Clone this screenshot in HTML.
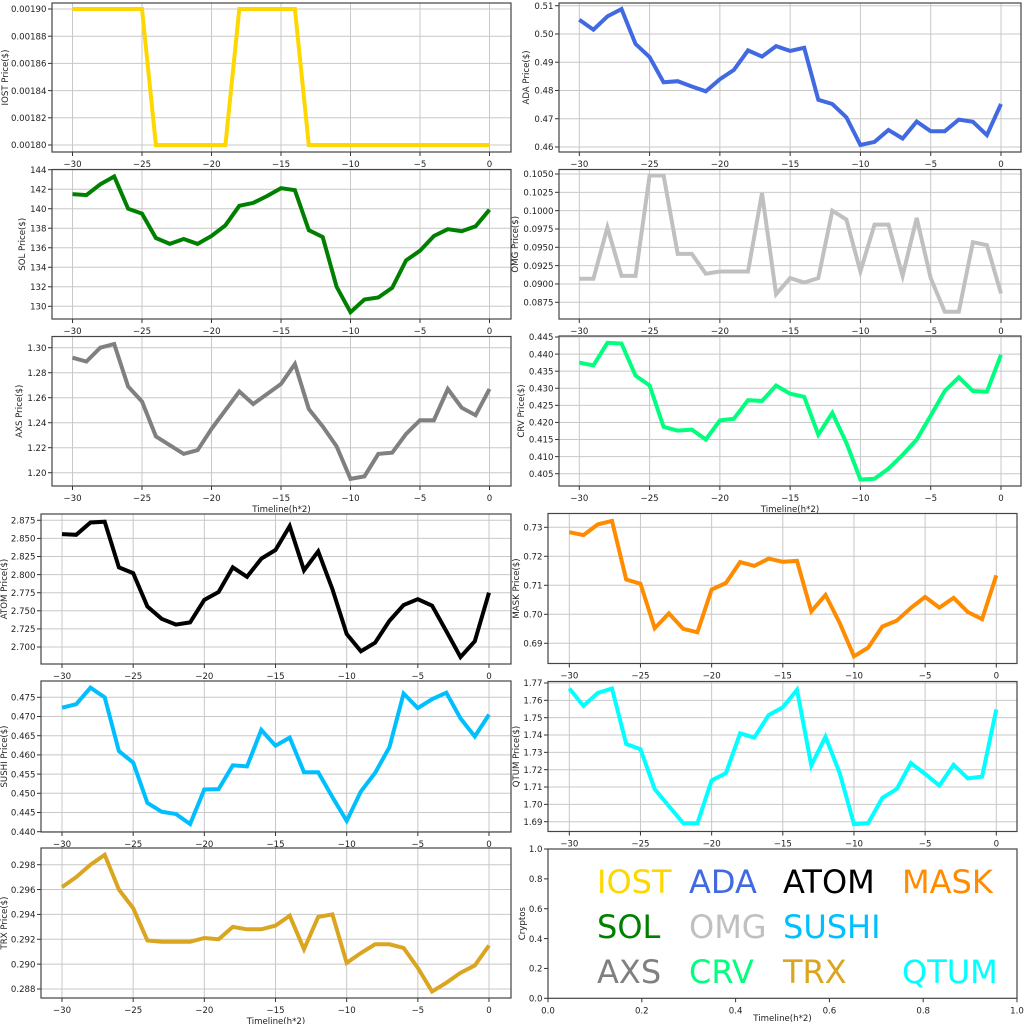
<!DOCTYPE html>
<html><head><meta charset="utf-8"><style>
html,body{margin:0;padding:0;background:#fff;}
svg{display:block;font-family:"DejaVu Sans","Liberation Sans",sans-serif;}
</style></head><body>
<svg id="s" width="1024" height="1024" viewBox="0 0 1024 1024" xmlns="http://www.w3.org/2000/svg"></svg>
<script>
const S=document.getElementById('s');let h='';const FS=8.6;
function panel(p){
  const {L,R,T,B,x30,x0,v1,p1,v2,p2,ticks,dec,label,color,data,xlab}=p;
  const fy=v=>p1+(v-v1)*(p2-p1)/(v2-v1);
  const fx=i=>x30+(i+30)*(x0-x30)/30;
  h+=`<rect x="${L}" y="${T}" width="${R-L}" height="${B-T}" fill="#fff"/>`;
  for(let k=-30;k<=0;k+=5){const x=fx(k);h+=`<line x1="${x}" y1="${T}" x2="${x}" y2="${B}" stroke="#c8c8c8" stroke-width="1"/>`;
    h+=`<line x1="${x}" y1="${B}" x2="${x}" y2="${B+4}" stroke="#333"/>`;
    h+=`<text x="${x}" y="${B+15}" font-size="${FS}" text-anchor="middle" fill="#222">${k<0?'\u2212'+(-k):k}</text>`;}
  ticks.forEach(t=>{const y=fy(t);h+=`<line x1="${L}" y1="${y}" x2="${R}" y2="${y}" stroke="#c8c8c8" stroke-width="1"/>`;
    h+=`<line x1="${L-4}" y1="${y}" x2="${L}" y2="${y}" stroke="#333"/>`;
    h+=`<text x="${L-5.5}" y="${y+3.2}" font-size="${FS}" text-anchor="end" fill="#222">${t.toFixed(dec)}</text>`;});
  let pts=data.map((v,i)=>fx(i-30).toFixed(1)+','+fy(v).toFixed(1)).join(' ');
  h+=`<polyline points="${pts}" fill="none" stroke="${color}" stroke-width="4" stroke-linejoin="miter"/>`;
  h+=`<rect x="${L}" y="${T}" width="${R-L}" height="${B-T}" fill="none" stroke="#444" stroke-width="1.2"/>`;
  const ly=(T+B)/2;
  h+=`<text transform="translate(${p.labx},${ly}) rotate(-90)" font-size="${FS}" text-anchor="middle" fill="#222">${label}</text>`;
  if(xlab)h+=`<text x="${(L+R)/2}" y="${B+26}" font-size="${FS}" text-anchor="middle" fill="#222">Timeline(h*2)</text>`;
}
function rng(a,b,s){const r=[];for(let v=a;v<=b+s/1000;v+=s)r.push(+v.toFixed(6));return r;}
const LT={L:52,R:511,x30:72.5,x0:489.5}, RT={L:559,R:1021,x30:579.3,x0:1001};
const LB={L:41,R:511,x30:62,x0:489}, RB={L:548,R:1017,x30:569.3,x0:996.3};
const iost=[];for(let i=-30;i<=0;i++)iost.push((i<=-25||(i>=-18&&i<=-14))?0.0019:0.0018);
panel({...LT,T:3,B:152,v1:0.0019,p1:9,v2:0.0018,p2:145,ticks:rng(0.0018,0.0019,0.00002),dec:5,label:'IOST Price($)',labx:8,color:'#FFD700',data:iost});
panel({...LT,T:169.5,B:319,v1:144,p1:169.7,v2:130,p2:306.3,ticks:rng(130,144,2),dec:0,label:'SOL Price($)',labx:25,color:'#008000',
data:[141.5,141.4,142.5,143.3,140,139.5,137,136.4,136.9,136.4,137.2,138.3,140.3,140.6,141.3,142.1,141.9,137.8,137.1,132,129.4,130.7,130.9,131.9,134.7,135.7,137.2,137.9,137.7,138.2,139.9]});
panel({...LT,T:336.5,B:486,v1:1.30,p1:347.7,v2:1.20,p2:472.7,ticks:rng(1.2,1.3,0.02),dec:2,label:'AXS Price($)',labx:22,color:'#808080',xlab:1,
data:[1.292,1.289,1.300,1.303,1.269,1.257,1.229,1.222,1.215,1.218,1.235,1.250,1.265,1.255,1.263,1.271,1.287,1.251,1.237,1.221,1.195,1.197,1.215,1.216,1.231,1.242,1.242,1.267,1.252,1.246,1.267]});
panel({...RT,T:3,B:152,v1:0.51,p1:5.7,v2:0.46,p2:147,ticks:rng(0.46,0.51,0.01),dec:2,label:'ADA  Price($)',labx:529,color:'#4169E1',
data:[0.5050,0.5015,0.5062,0.5088,0.4965,0.4918,0.4829,0.4833,0.4814,0.4797,0.4840,0.4873,0.4942,0.4920,0.4957,0.4940,0.4951,0.4767,0.4752,0.4705,0.4607,0.4618,0.4660,0.4630,0.4690,0.4656,0.4656,0.4697,0.4689,0.4642,0.4752]});
panel({...RT,T:169.5,B:319,v1:0.105,p1:174,v2:0.0875,p2:302.3,ticks:rng(0.0875,0.105,0.0025),dec:4,label:'OMG  Price($)',labx:518,color:'#C0C0C0',
data:[0.0907,0.0907,0.0977,0.0911,0.0911,0.1048,0.1048,0.0941,0.0941,0.0914,0.0917,0.0917,0.0917,0.1024,0.0886,0.0908,0.0902,0.0908,0.1000,0.0988,0.0917,0.0981,0.0981,0.0911,0.0990,0.0908,0.0862,0.0862,0.0957,0.0953,0.0887]});
panel({...RT,T:336,B:486,v1:0.445,p1:337,v2:0.405,p2:473.7,ticks:rng(0.405,0.445,0.005),dec:3,label:'CRV  Price($)',labx:524,color:'#00FF7F',xlab:1,
data:[0.4375,0.4367,0.4433,0.4431,0.4337,0.4308,0.4187,0.4176,0.4179,0.4150,0.4206,0.4211,0.4265,0.4263,0.4308,0.4284,0.4275,0.4164,0.4228,0.4140,0.4033,0.4035,0.4065,0.4105,0.4150,0.4220,0.4292,0.4332,0.4292,0.4290,0.4398]});
panel({...LB,T:514,B:664,v1:2.875,p1:520.3,v2:2.700,p2:647,ticks:rng(2.7,2.875,0.025),dec:3,label:'ATOM  Price($)',labx:7,color:'#000000',
data:[2.856,2.855,2.872,2.873,2.810,2.802,2.756,2.739,2.731,2.734,2.765,2.776,2.810,2.797,2.822,2.834,2.867,2.806,2.832,2.780,2.718,2.694,2.706,2.736,2.758,2.766,2.757,2.722,2.686,2.708,2.775]});
panel({...LB,T:681,B:832,v1:0.475,p1:697.3,v2:0.440,p2:831.7,ticks:rng(0.44,0.475,0.005),dec:3,label:'SUSHI  Price($)',labx:7,color:'#00BFFF',
data:[0.4723,0.4732,0.4775,0.4750,0.4610,0.4580,0.4475,0.4452,0.4446,0.4420,0.4510,0.4511,0.4573,0.4570,0.4665,0.4624,0.4645,0.4555,0.4555,0.4490,0.4428,0.4505,0.4553,0.4620,0.4760,0.4722,0.4745,0.4762,0.4695,0.4648,0.4705]});
panel({...LB,T:848,B:998,v1:0.298,p1:864.7,v2:0.288,p2:989,ticks:rng(0.288,0.298,0.002),dec:3,label:'TRX Price($)',labx:7,color:'#DAA520',xlab:1,
data:[0.2962,0.2970,0.2980,0.2988,0.2960,0.2945,0.2919,0.2918,0.2918,0.2918,0.2921,0.2920,0.2930,0.2928,0.2928,0.2931,0.2939,0.2912,0.2938,0.2940,0.2901,0.2909,0.2916,0.2916,0.2913,0.2897,0.2878,0.2885,0.2893,0.2899,0.2915]});
panel({...RB,T:513.5,B:663.5,v1:0.73,p1:527.3,v2:0.69,p2:643.3,ticks:rng(0.69,0.73,0.01),dec:2,label:'MASK  Price($)',labx:519,color:'#FF8C00',
data:[0.7283,0.7273,0.7310,0.7322,0.7120,0.7105,0.6952,0.7003,0.6950,0.6938,0.7085,0.7108,0.7180,0.7167,0.7192,0.7181,0.7184,0.7010,0.7067,0.6970,0.6855,0.6885,0.6958,0.6978,0.7022,0.7060,0.7023,0.7057,0.7008,0.6983,0.7134]});
panel({...RB,T:681.5,B:831.5,v1:1.77,p1:683,v2:1.69,p2:821.7,ticks:rng(1.69,1.77,0.01),dec:2,label:'QTUM Price($)',labx:519,color:'#00FFFF',
data:[1.7668,1.7568,1.7643,1.7668,1.7348,1.7318,1.7088,1.6990,1.6892,1.6890,1.7138,1.7180,1.7410,1.7385,1.7515,1.7560,1.7660,1.7225,1.7390,1.7180,1.6885,1.6892,1.7038,1.7088,1.7238,1.7175,1.7108,1.7228,1.7150,1.7160,1.7548]});
{const L=548,R=1017,T=849,B=998.3;
h+=`<rect x="${L}" y="${T}" width="${R-L}" height="${B-T}" fill="#fff" stroke="#444" stroke-width="1.2"/>`;
for(let i=0;i<=5;i++){const v=i*0.2;const x=L+v*(R-L),y=B-v*(B-T);
 h+=`<line x1="${x}" y1="${B}" x2="${x}" y2="${B+4}" stroke="#333"/><text x="${x}" y="${B+15}" font-size="${FS}" text-anchor="middle" fill="#222">${v.toFixed(1)}</text>`;
 h+=`<line x1="${L-4}" y1="${y}" x2="${L}" y2="${y}" stroke="#333"/><text x="${L-5.5}" y="${y+3.2}" font-size="${FS}" text-anchor="end" fill="#222">${v.toFixed(1)}</text>`;}
h+=`<text transform="translate(525,${(T+B)/2}) rotate(-90)" font-size="${FS}" text-anchor="middle" fill="#222">Cryptos</text>`;
h+=`<text x="${(L+R)/2}" y="1021" font-size="${FS}" text-anchor="middle" fill="#222">Timeline(h*2)</text>`;
const W=[['IOST','#FFD700',597,893],['ADA','#4169E1',689,893],['ATOM','#000000',783,893],['MASK','#FF8C00',902,893],
['SOL','#008000',597,938],['OMG','#C0C0C0',689,938],['SUSHI','#00BFFF',783,938],
['AXS','#808080',597,983],['CRV','#00FF7F',689,983],['TRX','#DAA520',783,983],['QTUM','#00FFFF',902,983]];
W.forEach(w=>h+=`<text x="${w[2]}" y="${w[3]}" font-size="32" fill="${w[1]}">${w[0]}</text>`);}
S.innerHTML=h;
</script>
</body></html>
